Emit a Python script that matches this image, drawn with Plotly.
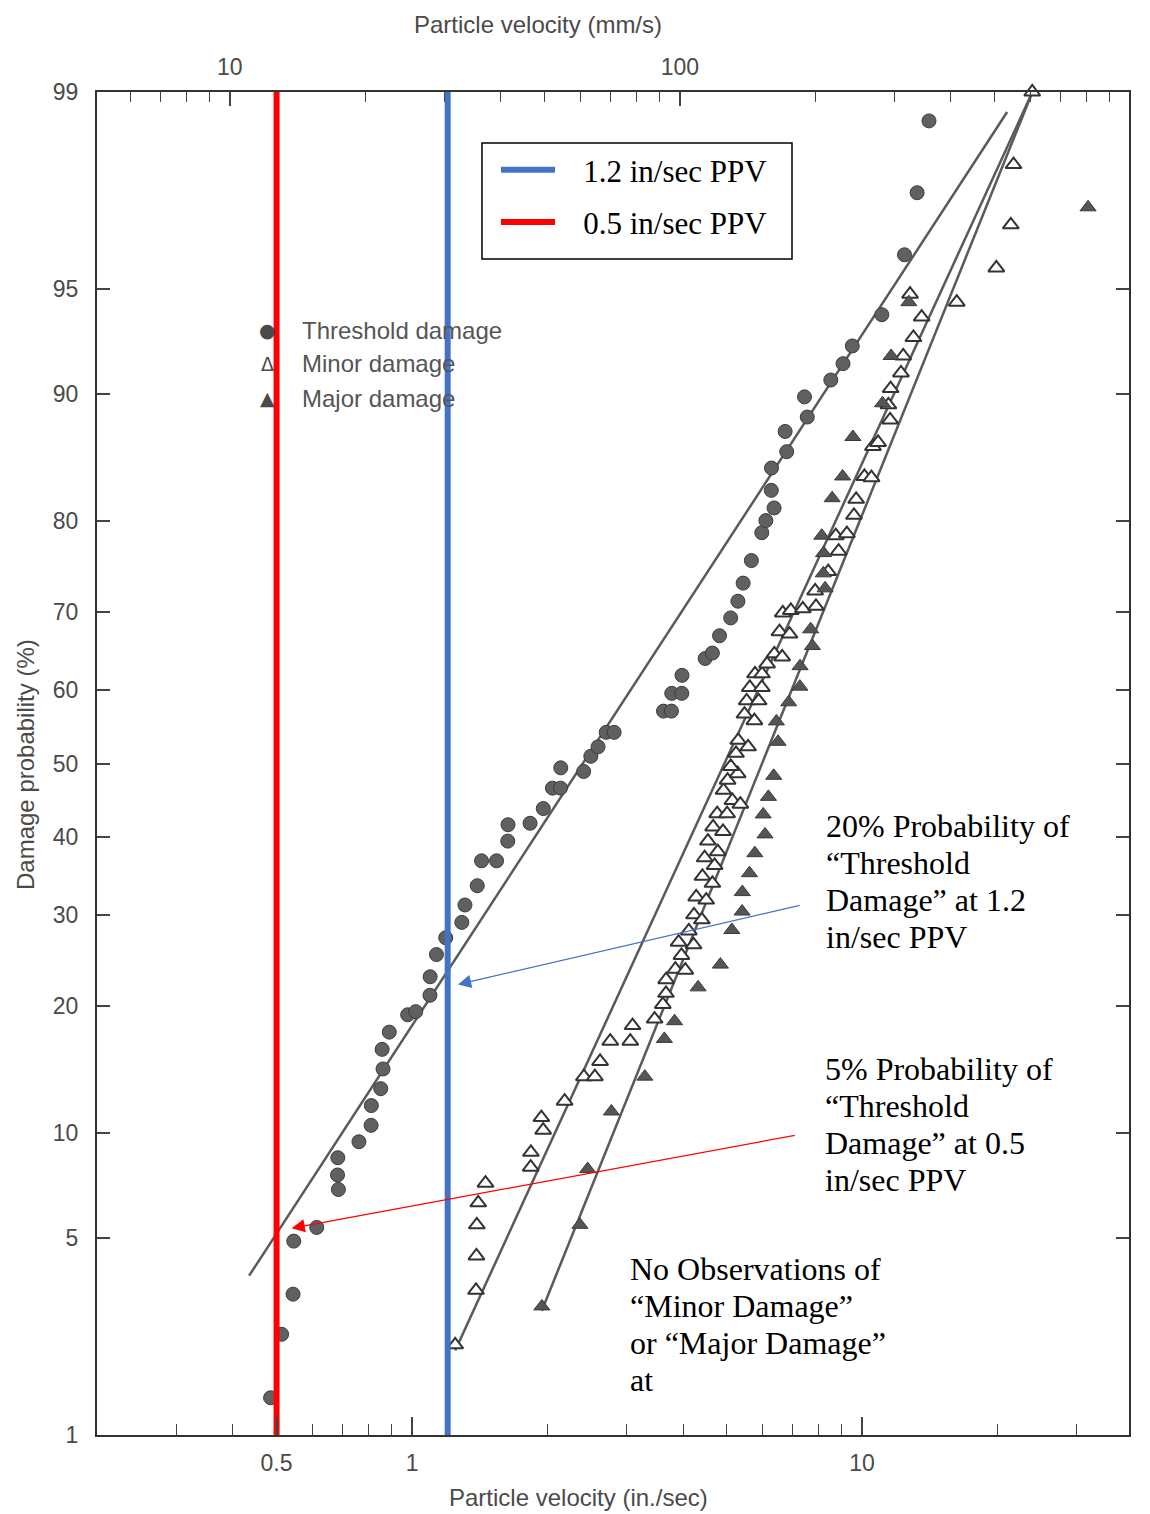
import math
from statistics import NormalDist
import plotly.graph_objects as go

# ---------------- data (velocity in in./sec, cumulative probability in %) ----------------
thr_v = [0.485, 0.513, 0.544, 0.546, 0.614, 0.686, 0.683, 0.684, 0.762, 0.811,
         0.812, 0.852, 0.862, 0.858, 0.890, 0.978, 1.019, 1.096, 1.097, 1.133,
         1.188, 1.290, 1.311, 1.396, 1.427, 1.541, 1.632, 1.634, 1.829, 1.957,
         2.051, 2.137, 2.140, 2.406, 2.496, 2.590, 2.700, 2.812, 3.620, 3.770,
         3.776, 3.975, 3.979, 4.480, 4.648, 4.822, 5.105, 5.297, 5.440, 5.675,
         5.985, 6.112, 6.374, 6.284, 6.290, 6.800, 6.745, 7.553, 7.447, 8.520,
         9.070, 9.510, 11.06, 12.42, 13.25, 14.08]
thr_p = [1.4, 2.4, 3.3, 4.9, 5.4, 7.0, 7.7, 8.6, 9.5, 10.5,
         11.8, 13.0, 14.5, 16.1, 17.6, 19.2, 19.5, 21.1, 23.0, 25.4,
         27.3, 29.1, 31.2, 33.6, 36.8, 36.8, 39.4, 41.6, 41.8, 43.8,
         46.6, 46.6, 49.4, 48.9, 51.0, 52.3, 54.3, 54.3, 57.2, 57.2,
         59.6, 59.6, 62.0, 64.2, 64.9, 67.1, 69.3, 71.3, 73.4, 75.9,
         78.8, 80.0, 81.2, 82.8, 84.7, 86.0, 87.5, 88.5, 89.8, 90.8,
         91.7, 92.6, 94.0, 96.1, 97.6, 98.7]

minor_v = [1.247, 1.387, 1.390, 1.393, 1.403, 1.456, 1.835, 1.837, 1.956, 1.938,
           2.183, 2.409, 2.548, 2.617, 2.757, 3.054, 3.090, 3.459, 3.607, 3.666,
           3.669, 3.846, 4.047, 3.968, 3.911, 4.223, 4.121, 4.231, 4.405, 4.279,
           4.504, 4.418, 4.649, 4.468, 4.702, 4.543, 4.779, 4.666, 4.908, 4.764,
           5.012, 4.920, 5.149, 5.364, 5.025, 5.290, 5.107, 5.246, 5.305, 5.580,
           5.478, 5.763, 5.540, 5.890, 5.629, 5.986, 5.781, 5.991, 6.150, 6.381,
           6.644, 6.553, 6.898, 6.664, 6.944, 7.384, 7.897, 7.864, 8.410, 8.867,
           8.740, 9.250, 9.590, 9.700, 10.12, 10.49, 10.57, 10.85, 11.54, 11.44,
           11.57, 12.20, 12.34, 13.00, 13.56, 12.78, 16.23, 19.87, 21.40, 21.70,
           23.88]
minor_p = [2.2, 3.4, 4.4, 5.5, 6.4, 7.3, 8.1, 8.9, 10.2, 11.0,
           12.1, 13.9, 13.9, 15.1, 16.8, 16.8, 18.2, 18.8, 20.2, 21.3,
           22.7, 23.8, 23.7, 25.3, 26.8, 26.5, 28.1, 30.0, 29.4, 32.2,
           31.8, 34.8, 33.9, 37.2, 36.2, 39.4, 38.0, 41.3, 40.7, 43.1,
           43.1, 46.3, 44.9, 44.4, 47.7, 48.6, 49.6, 51.4, 53.2, 52.3,
           56.8, 55.9, 58.6, 58.6, 60.4, 60.4, 62.2, 62.2, 63.5, 64.8,
           64.4, 67.6, 67.3, 69.9, 70.2, 70.4, 70.7, 72.5, 74.7, 76.9,
           78.5, 78.7, 80.5, 82.0, 84.0, 83.9, 86.4, 86.7, 88.3, 89.3,
           90.3, 91.2, 92.1, 93.0, 93.9, 94.8, 94.5, 95.7, 96.9, 98.1,
           99.0]

major_v = [1.943, 2.360, 2.456, 2.773, 3.290, 3.636, 3.831, 4.321, 4.843, 5.134,
           5.412, 5.417, 5.621, 5.776, 6.085, 6.029, 6.192, 6.362, 6.506, 6.450,
           6.869, 7.272, 7.280, 7.756, 7.686, 8.275, 8.200, 8.210, 8.136, 8.580,
           9.050, 9.540, 11.10, 11.60, 12.70, 31.77]
major_p = [3.0, 5.5, 8.0, 11.4, 13.9, 17.0, 18.6, 21.9, 24.3, 28.2,
           30.4, 32.8, 35.2, 37.8, 40.3, 43.0, 45.4, 48.3, 53.0, 55.8,
           58.4, 60.5, 63.2, 65.8, 67.9, 72.8, 74.5, 76.7, 78.5, 82.1,
           84.0, 87.1, 89.4, 92.1, 94.5, 97.3]

# fitted lines (end points, velocity / probability)
thr_fit_v, thr_fit_p = [0.4345, 21.0], [3.8, 98.8]
minor_fit_v, minor_fit_p = [1.247, 23.9], [2.1, 99.0]
major_fit_v, major_fit_p = [1.942, 23.9], [2.9, 99.0]

# PPV reference lines
ppv_values = [1.2, 0.5]
ppv_names = ["1.2 in/sec PPV", "0.5 in/sec PPV"]
ppv_colors = ["#4472C4", "#FF0000"]

# axis ticks
prob_ticks = [1, 5, 10, 20, 30, 40, 50, 60, 70, 80, 90, 95, 99]
in_major = [0.5, 1, 10]
in_minor = [0.3, 0.4, 0.6, 0.7, 0.8, 0.9, 2, 3, 4, 5, 6, 7, 8, 9, 20, 30]
mm_major = [10, 100, 1000]
mm_minor = [6, 7, 8, 9, 20, 30, 40, 50, 60, 70, 80, 90, 200, 300, 400, 500, 600, 700, 800, 900]

# annotation arrows: (head velocity, head %, tail velocity, tail %)
arrow_blue = (1.265, 22.2, 7.32, 31.2)
arrow_red = (0.540, 5.37, 7.14, 9.9)

# explanatory notes (one entry per text line)
note_20 = ["20% Probability of", "“Threshold", "Damage” at 1.2", "in/sec PPV"]
note_5 = ["5% Probability of", "“Threshold", "Damage” at 0.5", "in/sec PPV"]
note_none = ["No Observations of", "“Minor Damage”", "or “Major Damage”", "at"]

# ---------------- helpers ----------------
nd = NormalDist()


def zp(p):
    return nd.inv_cdf(p / 100.0)


Y_LO, Y_HI = zp(1), zp(99)
X_RANGE = [-0.7, 1.593]
MM_PER_IN = 25.4

GRAY = "#4a4a4a"
SANS = "Liberation Sans, Arial, sans-serif"
SERIF = "Liberation Serif, Times New Roman, serif"

fig = go.Figure()

# regression lines
for v, p in [(thr_fit_v, thr_fit_p), (minor_fit_v, minor_fit_p), (major_fit_v, major_fit_p)]:
    fig.add_trace(go.Scatter(x=v, y=[zp(q) for q in p], mode="lines",
                             line=dict(color="#5a5a5a", width=2.5),
                             showlegend=False, hoverinfo="skip"))

# observations
fig.add_trace(go.Scatter(x=thr_v, y=[zp(q) for q in thr_p], mode="markers",
                         name="Threshold damage", showlegend=False,
                         marker=dict(symbol="circle", size=14, color="#606060",
                                     line=dict(color="#3c3c3c", width=1))))
fig.add_trace(go.Scatter(x=minor_v, y=[zp(q) for q in minor_p], mode="markers",
                         name="Minor damage", showlegend=False, cliponaxis=False,
                         marker=dict(symbol="triangle-up", size=14, color="white",
                                     line=dict(color="#333333", width=2))))
fig.add_trace(go.Scatter(x=major_v, y=[zp(q) for q in major_p], mode="markers",
                         name="Major damage", showlegend=False,
                         marker=dict(symbol="triangle-up", size=14, color="#555555",
                                     line=dict(color="#3a3a3a", width=1))))

# PPV vertical lines
NB = "\u00a0\u00a0\u00a0"
for val, name, col, grp in zip(ppv_values, ppv_names, ppv_colors, ["a", "b"]):
    fig.add_trace(go.Scatter(x=[val, val], y=[Y_LO, Y_HI], mode="lines", name=NB + name,
                             legendgroup=grp, line=dict(color=col, width=6),
                             cliponaxis=False))

# top axis carrier (mm/s), invisible
fig.add_trace(go.Scatter(x=[v * MM_PER_IN for v in ppv_values], y=[Y_LO, Y_LO],
                         xaxis="x2", mode="markers", marker=dict(opacity=0),
                         showlegend=False, hoverinfo="skip"))

# page-pixel -> paper helpers (plot area occupies page x 97..1129, y 92..1435)
W0, H0, L, T = 1032.0, 1343.0, 97.0, 92.0


def px(x):
    return (x - L) / W0


def py(y):
    return 1 - (y - T) / H0


annotations = []
# arrows
for (hx, hp, tx, tp), col in [(arrow_blue, "#4472C4"), (arrow_red, "#FF0000")]:
    annotations.append(dict(x=math.log10(hx), y=zp(hp), ax=math.log10(tx), ay=zp(tp),
                            xref="x", yref="y", axref="x", ayref="y", text="",
                            showarrow=True, arrowhead=2, arrowsize=2.2, arrowwidth=1.2,
                            arrowcolor=col, standoff=0, startstandoff=0))

note_font = dict(family=SERIF, size=32, color="black")
for lines, x0, y0 in [(note_20, 824, 826), (note_5, 823, 1069), (note_none, 628, 1269)]:
    for i, line in enumerate(lines):
        annotations.append(dict(x=px(x0), y=py(y0 + 37 * i), xref="paper", yref="paper",
                                xanchor="left", yanchor="middle", showarrow=False,
                                font=note_font, text=line))

# scanned inner legend
inner = [("●", "Threshold damage", 330), ("Δ", "Minor damage", 364), ("▲", "Major damage", 398)]
for sym, lab, yy in inner:
    annotations.append(dict(x=px(267), y=py(yy), xref="paper", yref="paper", xanchor="center",
                            yanchor="middle", showarrow=False, text=sym,
                            font=dict(family="DejaVu Sans", size=19, color="#4a4a4a")))
    annotations.append(dict(x=px(300), y=py(yy), xref="paper", yref="paper", xanchor="left",
                            yanchor="middle", showarrow=False, text=lab,
                            font=dict(family=SANS, size=24, color="#555555")))

# axis titles
title_font = dict(family=SANS, size=24, color=GRAY)
annotations.append(dict(x=px(578), y=py(1497), xref="paper", yref="paper", showarrow=False,
                        xanchor="center", yanchor="middle",
                        text="Particle velocity (in./sec)", font=title_font))
annotations.append(dict(x=px(538), y=py(25), xref="paper", yref="paper", showarrow=False,
                        xanchor="center", yanchor="middle",
                        text="Particle velocity (mm/s)", font=title_font))
annotations.append(dict(x=px(25), y=py(765), xref="paper", yref="paper", showarrow=False,
                        xanchor="center", yanchor="middle",
                        text="Damage probability (%)", textangle=-90, font=title_font))

# legend frame
shapes = [dict(type="rect", xref="paper", yref="paper", x0=px(482), x1=px(792),
               y0=py(259), y1=py(143), line=dict(color="black", width=1.5),
               fillcolor="rgba(0,0,0,0)", layer="above")]

tickfont = dict(family=SANS, size=23, color=GRAY)

fig.update_layout(
    width=1142, height=1506,
    margin=dict(l=89, r=21, t=84, b=79),
    paper_bgcolor="white", plot_bgcolor="white",
    showlegend=True,
    legend=dict(x=px(496), y=py(143), xanchor="left", yanchor="top",
                bgcolor="rgba(0,0,0,0)", borderwidth=0,
                font=dict(family=SERIF, size=31, color="black"),
                itemwidth=54, tracegroupgap=9),
    annotations=annotations,
    shapes=shapes,
    xaxis=dict(type="log", range=X_RANGE, showgrid=False, zeroline=False,
               showline=True, linecolor="#333333", linewidth=2, mirror=False,
               tickvals=in_major, ticktext=[str(v) for v in in_major],
               ticks="inside", ticklen=18, tickwidth=1.5, tickcolor="#444444",
               tickfont=tickfont, ticklabelstandoff=6,
               minor=dict(tickvals=in_minor, ticks="inside", ticklen=11,
                          tickwidth=1.3, tickcolor="#444444", showgrid=False)),
    xaxis2=dict(type="log", overlaying="x", side="top", anchor="y",
                range=[X_RANGE[0] + math.log10(MM_PER_IN), X_RANGE[1] + math.log10(MM_PER_IN)],
                showgrid=False, zeroline=False, showline=True, linecolor="#333333",
                linewidth=2, tickvals=mm_major, ticktext=[str(v) for v in mm_major],
                ticks="inside", ticklen=14, tickwidth=1.5, tickcolor="#444444",
                tickfont=tickfont, ticklabelstandoff=6,
                minor=dict(tickvals=mm_minor, ticks="inside", ticklen=10,
                           tickwidth=1.3, tickcolor="#444444", showgrid=False)),
    yaxis=dict(range=[Y_LO, Y_HI], showgrid=False, zeroline=False,
               showline=True, linecolor="#333333", linewidth=2, mirror="ticks",
               tickvals=[zp(p) for p in prob_ticks], ticktext=[str(p) for p in prob_ticks],
               ticks="inside", ticklen=13, tickwidth=1.5, tickcolor="#444444",
               tickfont=tickfont, ticklabelstandoff=12),
)

fig.write_html("out.html")
